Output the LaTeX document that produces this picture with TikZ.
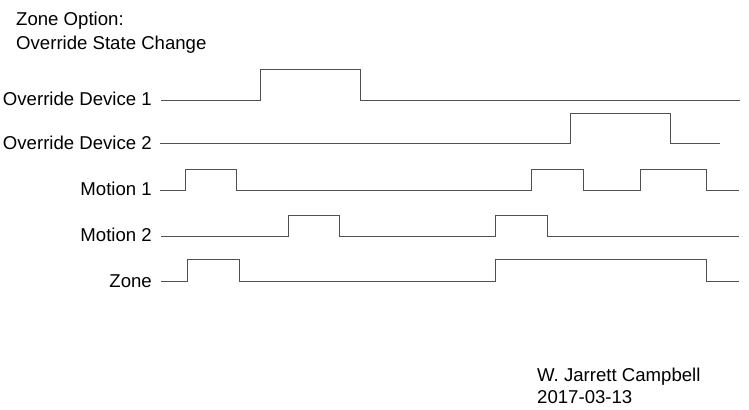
\documentclass[tikz,border=0pt]{standalone}
\usepackage{fontspec}
\setmainfont{Liberation Sans}
\definecolor{sig}{RGB}{80,80,80}
\begin{document}
\begin{tikzpicture}[x=1bp,y=-1bp,
  lbl/.style={anchor=base east,inner sep=0pt,font=\fontsize{18.6bp}{22bp}\selectfont},
  txt/.style={anchor=base west,inner sep=0pt,font=\fontsize{18.6bp}{22bp}\selectfont},
  wave/.style={draw=sig,line width=1bp}]
\useasboundingbox (0,0) rectangle (749,409);
\node[txt] (t1) at (16,25) {Zone Option:};
\node[txt] (t2) at (16,49) {Override State Change};
\node[lbl] (od1) at (152,105) {Override Device 1};
\node[lbl] (od2) at (152,149) {Override Device 2};
\node[lbl] (m1) at (152,195) {Motion 1};
\node[lbl] (m2) at (152,241) {Motion 2};
\node[lbl] (z) at (152,287) {Zone};
\node[txt] (a1) at (537,381) {W. Jarrett Campbell};
\node[txt] (a2) at (537,403) {2017-03-13};
\draw[wave] (161,100.5) -- (260.5,100.5) -- (260.5,69.5) -- (360.5,69.5) -- (360.5,100.5) -- (739.5,100.5);
\draw[wave] (159.5,143.5) -- (570.5,143.5) -- (570.5,113.5) -- (670.5,113.5) -- (670.5,143.5) -- (720,143.5);
\draw[wave] (159.5,190.5) -- (185.5,190.5) -- (185.5,169.5) -- (236.5,169.5) -- (236.5,190.5) -- (531.5,190.5) -- (531.5,169.5) -- (583.5,169.5) -- (583.5,190.5) -- (640.5,190.5) -- (640.5,169.5) -- (706.5,169.5) -- (706.5,190.5) -- (738.5,190.5);
\draw[wave] (161,236.5) -- (288.5,236.5) -- (288.5,215.5) -- (339.5,215.5) -- (339.5,236.5) -- (495.5,236.5) -- (495.5,215.5) -- (547.5,215.5) -- (547.5,236.5) -- (738.5,236.5);
\draw[wave] (161,281.5) -- (187.5,281.5) -- (187.5,259.5) -- (239.5,259.5) -- (239.5,281.5) -- (495.5,281.5) -- (495.5,259.5) -- (706.5,259.5) -- (706.5,281.5) -- (738.5,281.5);
\end{tikzpicture}
\end{document}
